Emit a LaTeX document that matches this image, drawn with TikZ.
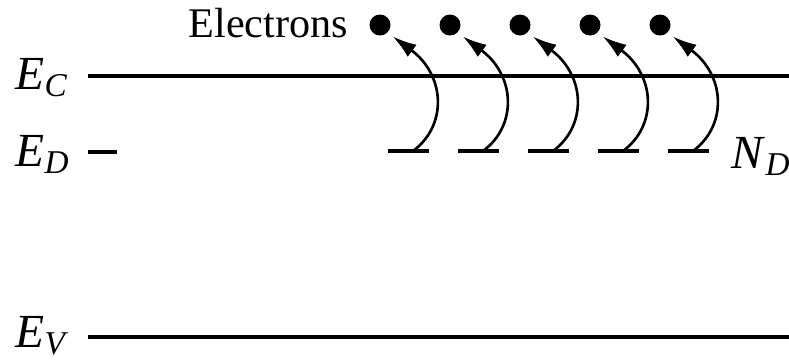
\documentclass[tikz,border=0pt]{standalone}
\usepackage{fontspec}
\setmainfont{Liberation Serif}
\usepackage{tikz}
\usetikzlibrary{arrows.meta}
\usetikzlibrary{positioning}
\tikzstyle{band} = [-, line width=1.1pt]
\tikzstyle{donor} = [-, line width=1.2pt]
\tikzstyle{electron} = [circle, fill=black, inner sep=0, minimum size=0.21cm]
\tikzstyle{lbl} = [draw=none, inner sep=0, anchor=base west, font=\fontsize{13.5}{15}\selectfont]
\tikzstyle{jump} = [-{Latex[length=0.24cm, width=0.15cm]}, line width=0.75pt, shorten >=0.06cm]

\begin{document}
\begin{tikzpicture}[x=0.01cm, y=-0.01cm]
\useasboundingbox (0,0) rectangle (789,360);
% levels
\node [lbl] (EC) at (15, 89) {\textit{E}\textsubscript{\textit{C}}};
\node [lbl] (ED) at (15, 166) {\textit{E}\textsubscript{\textit{D}}};
\node [lbl] (EV) at (15, 347) {\textit{E}\textsubscript{\textit{V}}};
\node [lbl] (ND) at (731, 168) {\textit{N}\textsubscript{\textit{D}}};
\node [lbl, font=\fontsize{12}{14}\selectfont] (el) at (188, 37) {Electrons};
\coordinate (ecL) at (88, 76);
\coordinate (ecR) at (789, 76);
\coordinate (evL) at (88, 337);
\coordinate (evR) at (789, 337);
\coordinate (edL) at (88, 152);
\coordinate (edR) at (117, 152);
\draw [band] (ecL) -- (ecR);
\draw [band] (evL) -- (evR);
\draw [donor] (edL) -- (edR);
% ionised donors
\foreach \i in {0,...,4}{
  \node [electron] (e\i) at (380+70*\i, 25) {};
  \coordinate (dL\i) at (388+70*\i, 151);
  \coordinate (dR\i) at (429+70*\i, 151);
  \coordinate (d\i) at (413+70*\i, 151);
  \draw [donor] (dL\i) -- (dR\i);
  \draw [jump] (d\i) .. controls (448+70*\i, 125) and (445+70*\i, 75) .. (e\i.south east);
}
\end{tikzpicture}
\end{document}
